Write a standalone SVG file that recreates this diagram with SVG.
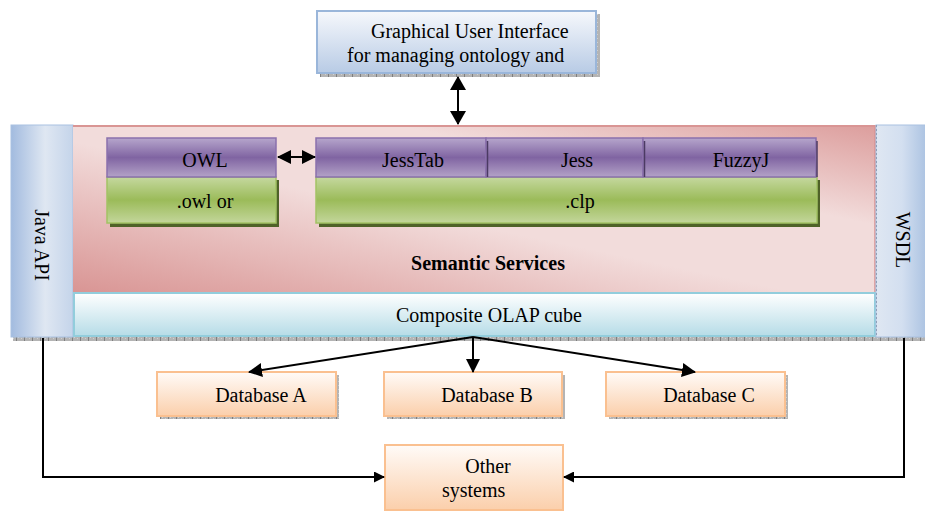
<svg xmlns="http://www.w3.org/2000/svg" width="925" height="512" viewBox="0 0 925 512">
<defs>
<style>
text{font-family:"Liberation Serif","Times New Roman",serif;font-size:20px;fill:#000}
.mid{text-anchor:middle}
.bold{font-weight:bold}
.conn{stroke:#000;stroke-width:2;fill:none}
.shadow{fill:url(#hatch)}
</style>
<pattern id="hatch" width="8" height="4" patternUnits="userSpaceOnUse">
<rect width="8" height="4" fill="#b4b4b4"/>
<rect width="1" height="4" fill="#7f7f7f"/>
<rect x="2" y="1" width="1" height="1" fill="#d0d0d0"/>
<rect x="5" y="2" width="1" height="1" fill="#d0d0d0"/>
</pattern>
<linearGradient id="gGui" x1="0" y1="0" x2="0" y2="1">
<stop offset="0" stop-color="#f6f8fc"/><stop offset="1" stop-color="#b8cbe5"/>
</linearGradient>
<linearGradient id="gJava" x1="0" y1="0" x2="1" y2="0">
<stop offset="0" stop-color="#a2bbdf"/><stop offset="0.55" stop-color="#dfe7f2"/><stop offset="1" stop-color="#c4d4ea"/>
</linearGradient>
<linearGradient id="gWsdl" x1="0" y1="0" x2="1" y2="0">
<stop offset="0" stop-color="#dfe7f2"/><stop offset="0.5" stop-color="#d3dff0"/><stop offset="1" stop-color="#a9c1e1"/>
</linearGradient>
<linearGradient id="gSem" x1="0" y1="1" x2="1" y2="0">
<stop offset="0" stop-color="#d99594"/><stop offset="0.45" stop-color="#f2dcdb"/><stop offset="0.7" stop-color="#f2dcdb"/><stop offset="1" stop-color="#dc9d9c"/>
</linearGradient>
<linearGradient id="gOlap" x1="0" y1="0" x2="0" y2="1">
<stop offset="0" stop-color="#ffffff"/><stop offset="1" stop-color="#b6dce7"/>
</linearGradient>
<linearGradient id="gPur" x1="0" y1="0" x2="0" y2="1">
<stop offset="0" stop-color="#b6a6cc"/><stop offset="0.5" stop-color="#8064a2"/><stop offset="1" stop-color="#b3a2c7"/>
</linearGradient>
<linearGradient id="gGrn" x1="0" y1="0" x2="0" y2="1">
<stop offset="0" stop-color="#c5d89f"/><stop offset="0.5" stop-color="#9bbb59"/><stop offset="1" stop-color="#c3d69b"/>
</linearGradient>
<linearGradient id="gDb" x1="0" y1="0" x2="0" y2="1">
<stop offset="0" stop-color="#fffbf8"/><stop offset="1" stop-color="#fbcfab"/>
</linearGradient>
<marker id="ah" viewBox="0 0 14 14" refX="13" refY="7" markerWidth="14" markerHeight="14" markerUnits="userSpaceOnUse" orient="auto-start-reverse">
<path d="M0,0 L14,7 L0,14 z" fill="#000"/>
</marker>
<marker id="ahb" viewBox="0 0 14 16" refX="13" refY="8" markerWidth="14" markerHeight="16" markerUnits="userSpaceOnUse" orient="auto-start-reverse">
<path d="M0,0 L14,8 L0,16 z" fill="#000"/>
</marker>
<marker id="ahs" viewBox="0 0 11 11" refX="10" refY="5.5" markerWidth="11" markerHeight="11" markerUnits="userSpaceOnUse" orient="auto-start-reverse">
<path d="M0,0 L11,5.5 L0,11 z" fill="#000"/>
</marker>
</defs>

<!-- bottom shadow of main block -->
<rect class="shadow" x="13" y="337" width="912" height="4"/>

<g id="gui">
<rect class="shadow" x="320" y="72" width="280" height="5"/>
<rect class="shadow" x="596" y="14" width="4" height="60"/>
<rect x="317" y="11" width="279" height="62" fill="url(#gGui)" stroke="#9ab6da" stroke-width="2"/>
<text x="371" y="38">Graphical User Interface</text>
<text x="347" y="62">for managing ontology and</text>
</g>

<g id="java-api">
<rect x="11" y="125" width="62" height="212" fill="url(#gJava)" stroke="#a9c1e1" stroke-width="1"/>
<text class="mid" transform="translate(35,245) rotate(90)">Java API</text>
</g>

<g id="semantic-services">
<rect x="73" y="125" width="803" height="167" fill="url(#gSem)"/>
<line x1="73" y1="126" x2="876" y2="126" stroke="#d99594" stroke-width="2"/>
<line x1="875" y1="125" x2="875" y2="292" stroke="#d99594" stroke-width="1.5"/>
<text class="mid bold" x="488" y="270">Semantic Services</text>
</g>

<g id="composite-olap">
<rect x="74" y="293" width="801" height="43" fill="url(#gOlap)" stroke="#92cddc" stroke-width="2"/>
<text class="mid" x="489" y="322">Composite OLAP cube</text>
</g>

<g id="wsdl">
<rect x="876" y="125" width="52" height="212" fill="url(#gWsdl)" stroke="#a9c1e1" stroke-width="1"/>
<line x1="876.5" y1="125" x2="876.5" y2="337" stroke="#8fa0b8" stroke-width="1" stroke-dasharray="2,2"/>
<text class="mid" transform="translate(896,240) rotate(90)">WSDL</text>
</g>

<g id="owl-file">
<rect x="110" y="180" width="169" height="47" fill="#4f6228"/>
<rect x="107" y="177" width="169" height="46" fill="url(#gGrn)" stroke="#a3c264" stroke-width="1.5"/>
<text class="mid" x="205" y="208">.owl or</text>
</g>
<g id="owl">
<rect x="107" y="138" width="169" height="39" fill="url(#gPur)" stroke="#8a70ad" stroke-width="1.5"/>
<text class="mid" x="205" y="167">OWL</text>
</g>

<g id="clp">
<rect x="319" y="180" width="501" height="47" fill="#4f6228"/>
<rect x="316" y="177" width="501" height="46" fill="url(#gGrn)" stroke="#a3c264" stroke-width="1.5"/>
<text class="mid" x="580" y="208">.clp</text>
</g>
<g id="jesstab">
<rect x="316" y="138" width="170" height="39" fill="url(#gPur)" stroke="#8a70ad" stroke-width="1.5"/>
<text class="mid" x="413" y="167">JessTab</text>
</g>
<g id="jess">
<rect x="486" y="138" width="157" height="39" fill="url(#gPur)" stroke="#8a70ad" stroke-width="1.5"/>
<line x1="487.5" y1="141" x2="487.5" y2="177" stroke="#4b3a63" stroke-width="1.5"/>
<text class="mid" x="577" y="167">Jess</text>
</g>
<g id="fuzzyj">
<rect x="643" y="138" width="173" height="39" fill="url(#gPur)" stroke="#8a70ad" stroke-width="1.5"/>
<line x1="644.5" y1="141" x2="644.5" y2="177" stroke="#4b3a63" stroke-width="1.5"/>
<line x1="817" y1="141" x2="817" y2="177" stroke="#4b3a63" stroke-width="1.5"/>
<text class="mid" x="741" y="167">FuzzyJ</text>
</g>

<g id="db-a">
<rect class="shadow" x="160" y="414" width="179" height="5"/>
<rect class="shadow" x="335" y="375" width="4" height="42"/>
<rect x="157" y="372" width="179" height="44" fill="url(#gDb)" stroke="#fac090" stroke-width="2"/>
<text class="mid" x="261" y="402">Database A</text>
</g>
<g id="db-b">
<rect class="shadow" x="387" y="414" width="178" height="5"/>
<rect class="shadow" x="561" y="375" width="4" height="42"/>
<rect x="384" y="372" width="178" height="44" fill="url(#gDb)" stroke="#fac090" stroke-width="2"/>
<text class="mid" x="487" y="402">Database B</text>
</g>
<g id="db-c">
<rect class="shadow" x="609" y="414" width="179" height="5"/>
<rect class="shadow" x="784" y="375" width="4" height="42"/>
<rect x="606" y="372" width="179" height="44" fill="url(#gDb)" stroke="#fac090" stroke-width="2"/>
<text class="mid" x="709" y="402">Database C</text>
</g>

<g id="other-systems">
<rect x="385" y="445" width="178" height="65" fill="url(#gDb)" stroke="#fac090" stroke-width="2"/>
<text class="mid" x="488" y="473">Other</text>
<text x="442" y="497">systems</text>
</g>

<g id="connectors">
<line class="conn" x1="458" y1="77" x2="458" y2="124" marker-start="url(#ahb)" marker-end="url(#ahb)"/>
<line class="conn" x1="278" y1="157" x2="315" y2="157" marker-start="url(#ah)" marker-end="url(#ah)"/>
<line class="conn" x1="473" y1="337" x2="249" y2="372" marker-end="url(#ah)"/>
<line class="conn" x1="473" y1="337" x2="473" y2="372" marker-end="url(#ah)"/>
<line class="conn" x1="473" y1="337" x2="695" y2="372" marker-end="url(#ah)"/>
<polyline class="conn" points="43,338 43,477 384,477" marker-end="url(#ahs)"/>
<polyline class="conn" points="904,338 904,477 564,477" marker-end="url(#ahs)"/>
</g>
</svg>
